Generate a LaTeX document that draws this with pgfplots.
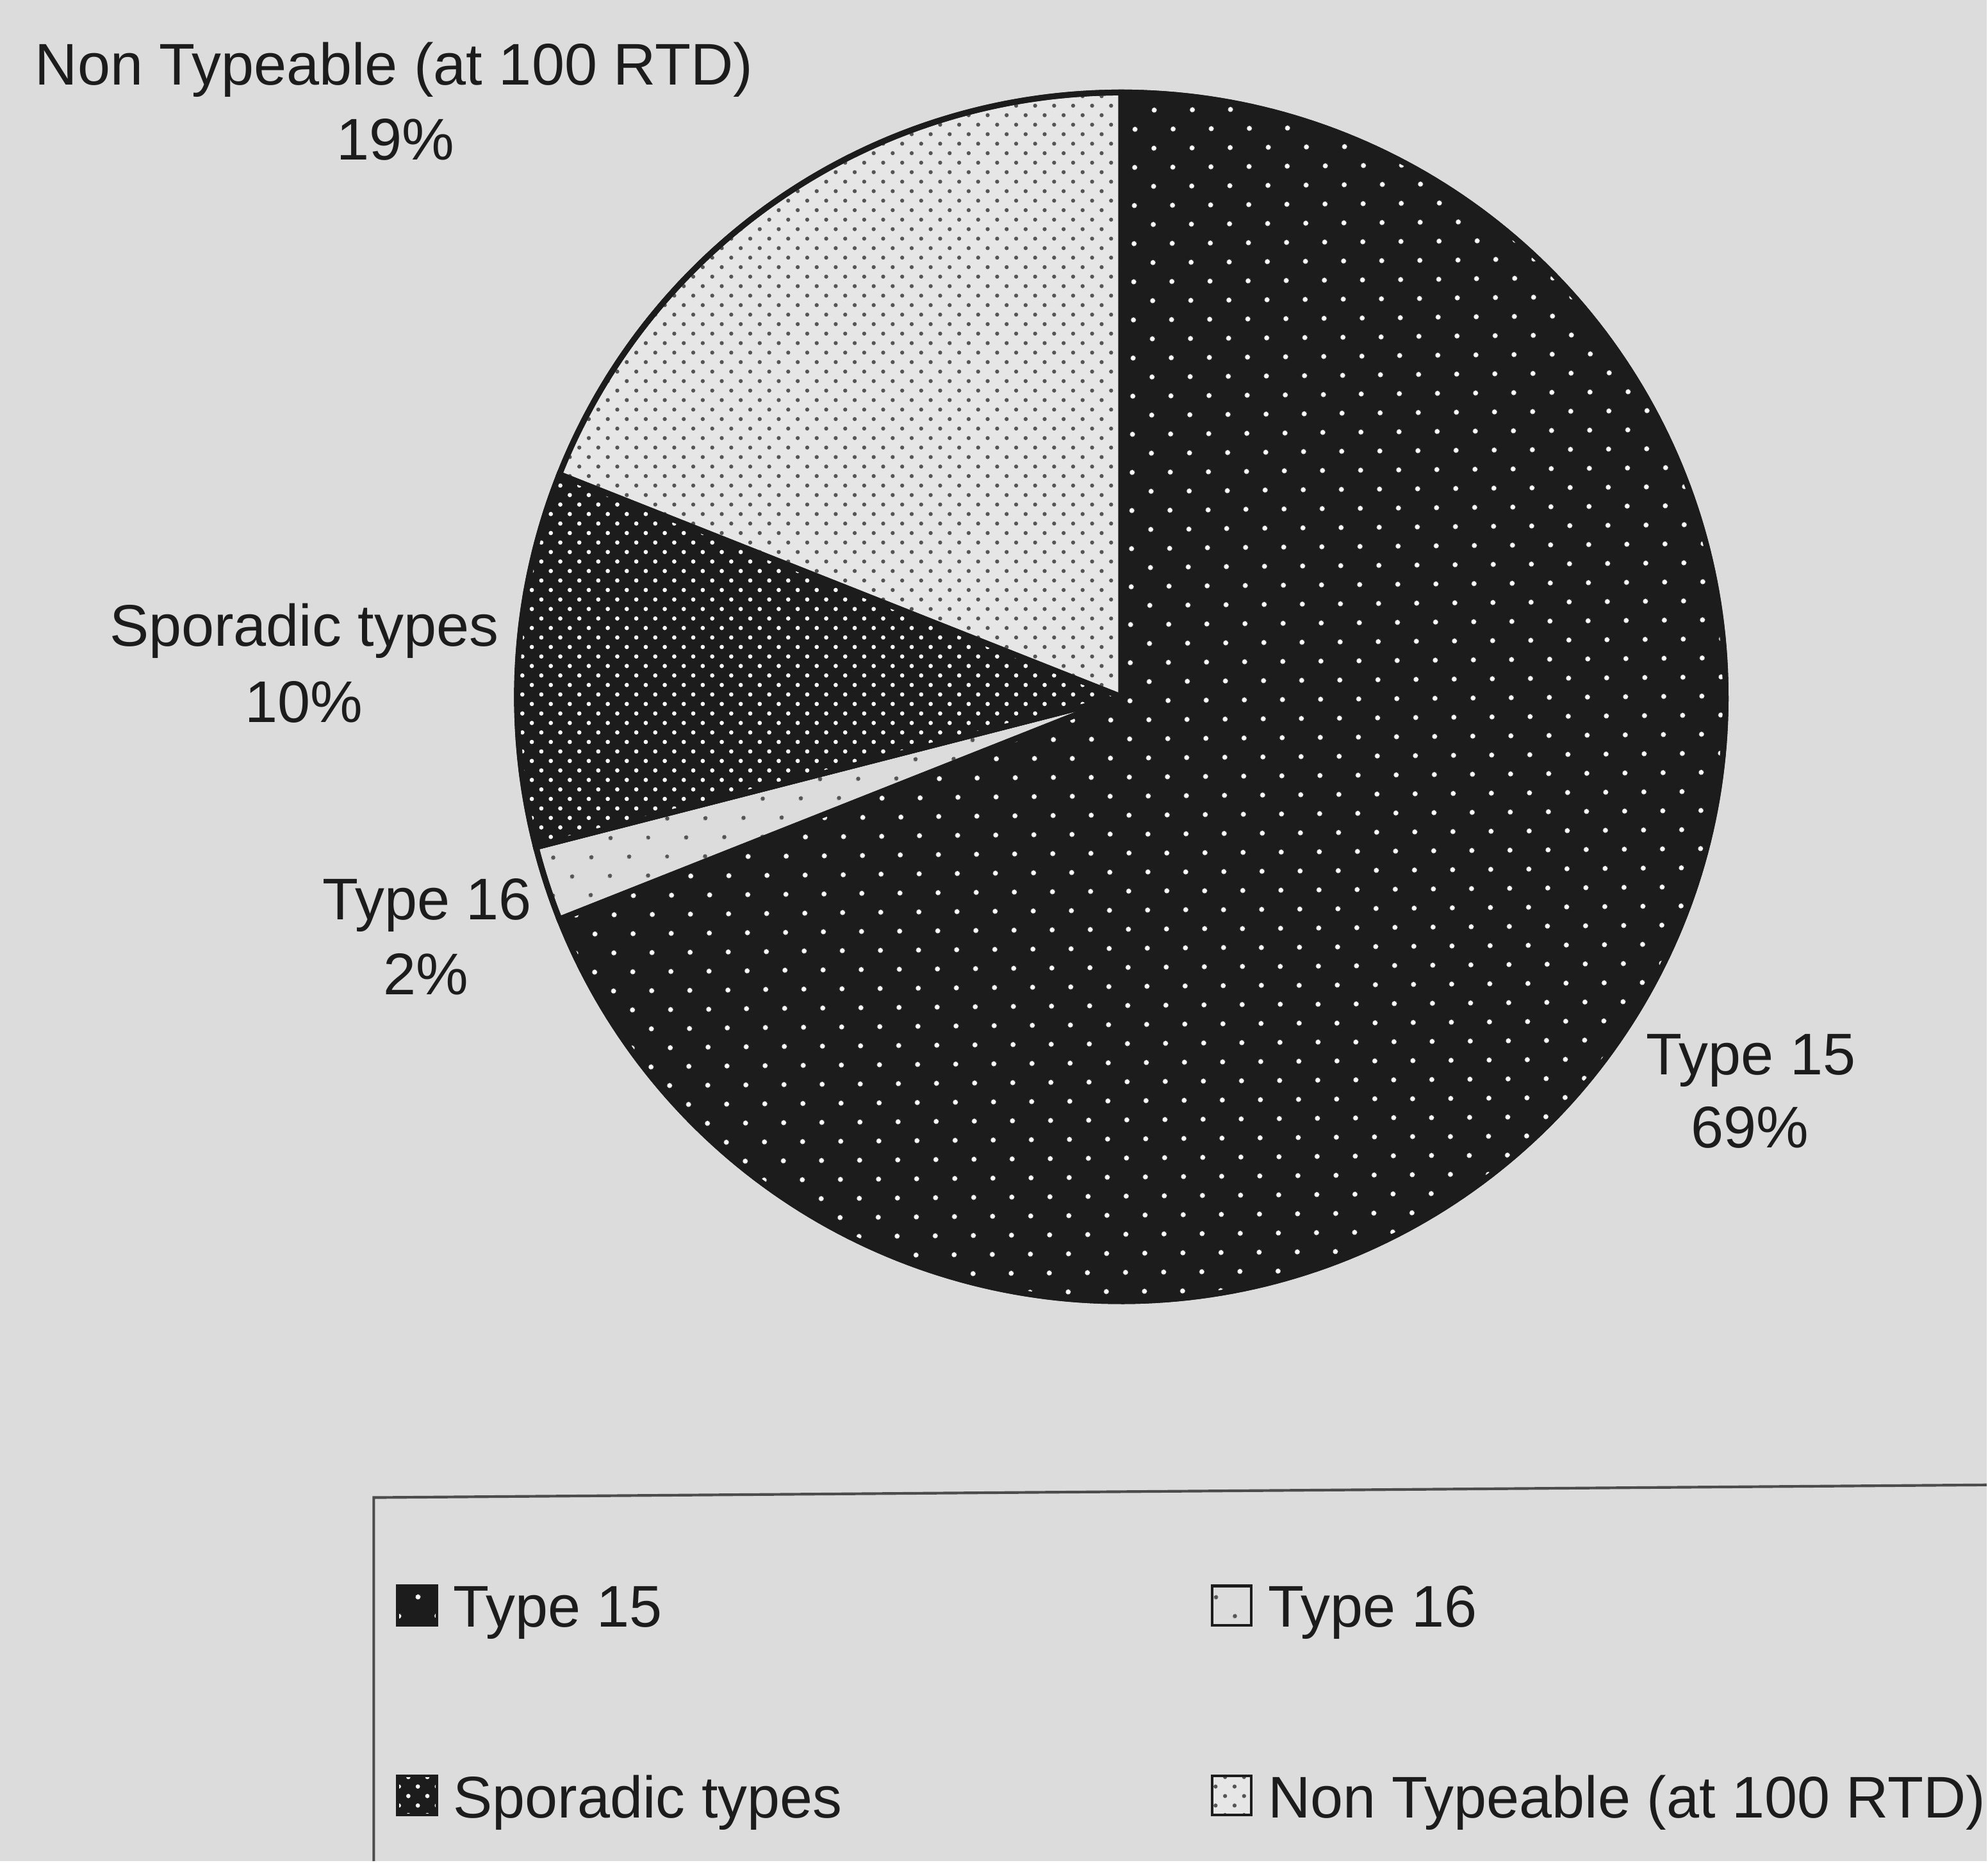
\documentclass[border=0pt]{standalone}
\usepackage{fontspec}
\setmainfont{Liberation Sans}
\usepackage{pgfplots}
\pgfplotsset{compat=1.18}
\usetikzlibrary{patterns.meta}
\definecolor{bg}{HTML}{DCDCDC}
\definecolor{ink}{HTML}{1C1C1C}
\definecolor{lightfill}{HTML}{E6E6E6}
\definecolor{dotgray}{HTML}{555555}
\newcommand\lbl{\fontsize{13.2}{16}\selectfont}
% slice percentages (clockwise from 12 o'clock)
\def\pA{69}% Type 15
\def\pB{2}%  Type 16
\def\pC{10}% Sporadic types
\def\pD{19}% Non Typeable (at 100 RTD)
\pgfmathsetmacro\aA{90}
\pgfmathsetmacro\aB{\aA-3.6*\pA}
\pgfmathsetmacro\aC{\aB-3.6*\pB}
\pgfmathsetmacro\aD{\aC-3.6*\pC}
\pgfmathsetmacro\aE{\aD-3.6*\pD}
\begin{document}
\begin{tikzpicture}
\begin{axis}[
  width=15.68cm, height=14.69cm, scale only axis,
  xmin=0, xmax=1568, ymin=0, ymax=1469,
  axis line style={draw=none}, ticks=none,
  axis background/.style={fill=bg},
  clip=false,
  legend columns=2,
  legend cell align=left,
  legend style={at={(axis cs:312,219)}, anchor=north west, draw=none, fill=none,
    inner sep=0pt, font=\lbl, text=ink, column sep=1.2mm, row sep=11.1mm,
    nodes={inner sep=0pt},
    /tikz/every even column/.append style={column sep=29.1mm}},
  legend image code/.code={\draw[#1, draw=ink, line width=0.6pt] (0mm,-1.2mm) rectangle (3.1mm,1.9mm);},
]
\addplot[fill=ink, draw=ink, line width=1.3pt,
  postaction={pattern={Dots[distance=2.12mm, radius=0.2mm, angle=45]}, pattern color=white},
  domain=\aB:\aA, samples=240]
  ({885+477*cos(x)},{919+477*sin(x)}) -- (axis cs:885,919) -- cycle;
\addlegendentry{Type 15}
\addplot[fill=bg, draw=ink, line width=1.3pt,
  postaction={pattern={Dots[distance=2.12mm, radius=0.17mm, angle=45]}, pattern color=dotgray},
  domain=\aC:\aB, samples=20]
  ({885+477*cos(x)},{919+477*sin(x)}) -- (axis cs:885,919) -- cycle;
\addlegendentry{Type 16}
\addplot[fill=ink, draw=ink, line width=1.3pt,
  postaction={pattern={Dots[distance=1.06mm, radius=0.17mm, angle=45]}, pattern color=white},
  domain=\aD:\aC, samples=60]
  ({885+477*cos(x)},{919+477*sin(x)}) -- (axis cs:885,919) -- cycle;
\addlegendentry{Sporadic types}
\addplot[fill=lightfill, draw=ink, line width=1.3pt,
  postaction={pattern={Dots[distance=1.06mm, radius=0.16mm, angle=45]}, pattern color=dotgray},
  domain=\aE:\aD, samples=100]
  ({885+477*cos(x)},{919+477*sin(x)}) -- (axis cs:885,919) -- cycle;
\addlegendentry{Non Typeable (at 100 RTD)}
% legend frame (partly visible in the scan)
\addplot[draw=black!70, line width=0.6pt, forget plot] coordinates {(295,0) (295,287) (1568,297)};
% slice labels
\node[anchor=base, font=\lbl, text=ink] at (axis cs:311,1402) {Non Typeable (at 100 RTD)};
\node[anchor=base, font=\lbl, text=ink] at (axis cs:312,1343) {19\%};
\node[anchor=base, font=\lbl, text=ink] at (axis cs:240,959) {Sporadic types};
\node[anchor=base, font=\lbl, text=ink] at (axis cs:240,899) {10\%};
\node[anchor=base, font=\lbl, text=ink] at (axis cs:337,743) {Type 16};
\node[anchor=base, font=\lbl, text=ink] at (axis cs:336,684) {2\%};
\node[anchor=base, font=\lbl, text=ink] at (axis cs:1382,621) {Type 15};
\node[anchor=base, font=\lbl, text=ink] at (axis cs:1381,563) {69\%};
\end{axis}
\end{tikzpicture}
\end{document}
